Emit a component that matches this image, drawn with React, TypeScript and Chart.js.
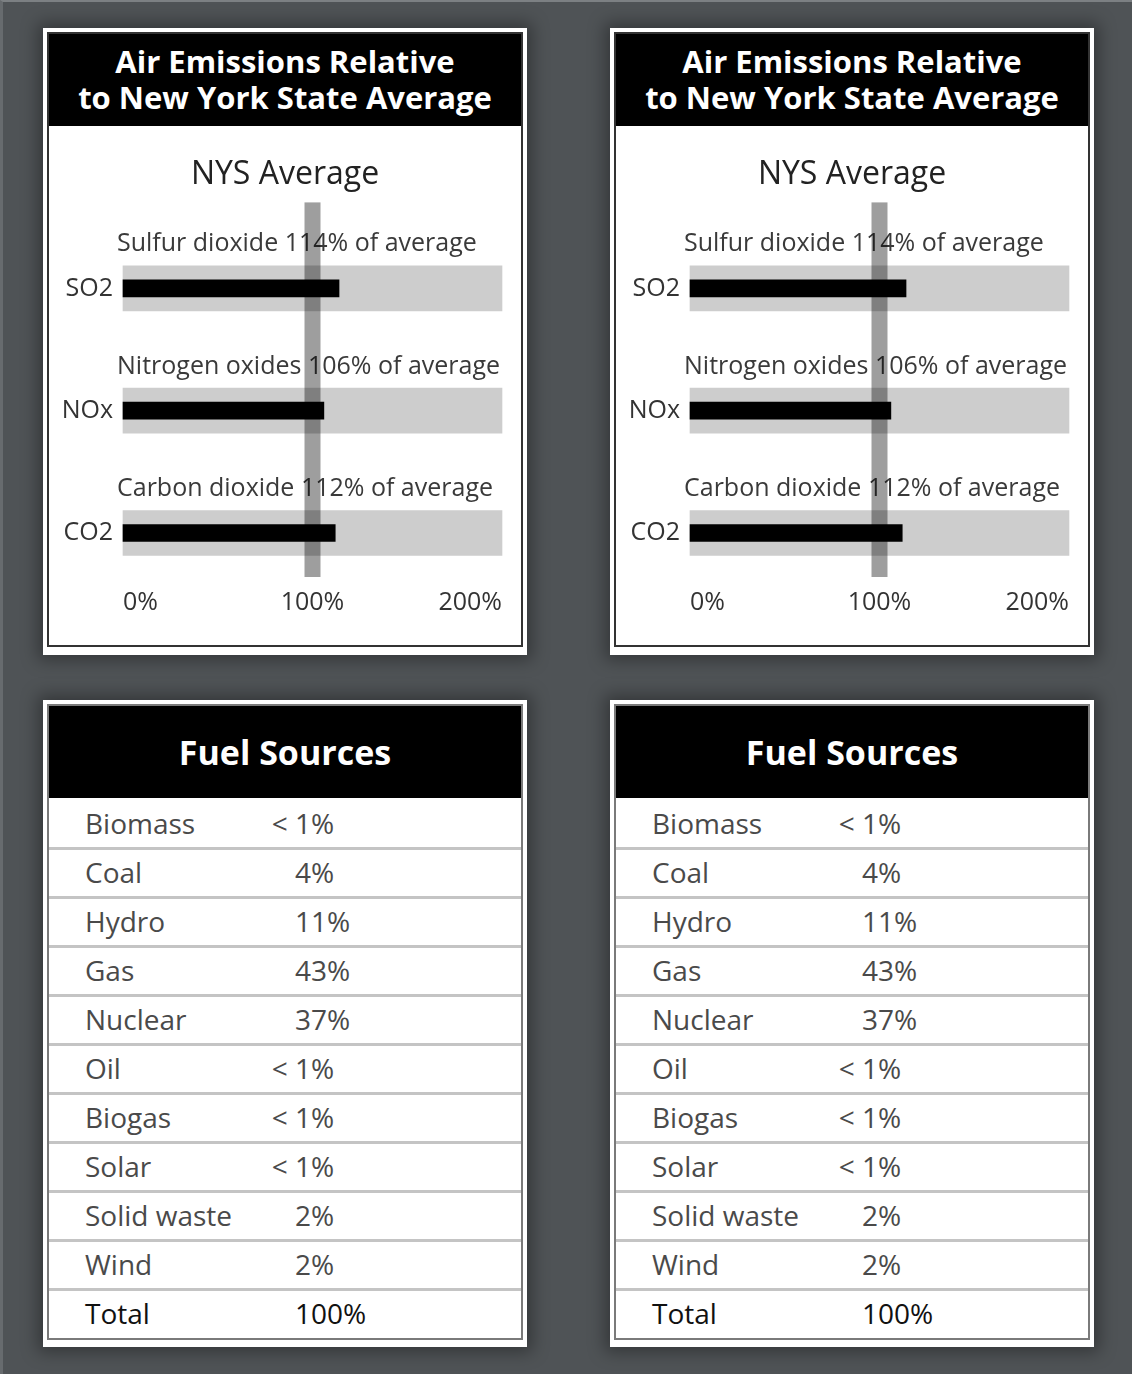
import React, { useEffect, useRef } from "react";
import { Chart, registerables } from "chart.js";

Chart.register(...registerables);

// ---------- data ----------
const pollutantCodes = ["SO2", "NOx", "CO2"];
const pollutantNames = ["Sulfur dioxide", "Nitrogen oxides", "Carbon dioxide"];
const percentOfAverage = [114, 106, 112];
const rangeMax = [200, 200, 200];
const xTickValues = [0, 100, 200];
const nysAverage = 100;

const fuelNames = [
  "Biomass",
  "Coal",
  "Hydro",
  "Gas",
  "Nuclear",
  "Oil",
  "Biogas",
  "Solar",
  "Solid waste",
  "Wind",
  "Total",
];
const fuelShares = [
  "< 1%",
  "4%",
  "11%",
  "43%",
  "37%",
  "< 1%",
  "< 1%",
  "< 1%",
  "2%",
  "2%",
  "100%",
];

const headerTitle = ["Air Emissions Relative", "to New York State Average"];
const chartTitle = "NYS Average";
const tableTitle = "Fuel Sources";

const FONT = '"Open Sans", "Noto Sans", sans-serif';

// ---------- chart ----------
const overlayPlugin = {
  id: "overlay",
  beforeDatasetsDraw(chart: any) {
    const { ctx, chartArea, scales } = chart;
    const y = scales.y;
    ctx.save();
    ctx.font = `25px ${FONT}`;
    ctx.fillStyle = "#3a3a3a";
    ctx.textAlign = "left";
    ctx.textBaseline = "alphabetic";
    pollutantNames.forEach((name, i) => {
      const py = y.getPixelForValue(i);
      ctx.fillText(`${name} ${percentOfAverage[i]}% of average`, chartArea.left - 6, py - 37);
    });
    ctx.restore();
  },
  afterDatasetsDraw(chart: any) {
    const { ctx, chartArea, scales } = chart;
    const px = scales.x.getPixelForValue(nysAverage);
    ctx.save();
    ctx.fillStyle = "rgba(0,0,0,0.38)";
    const top = chartArea.top - 86;
    const bottom = chartArea.bottom + 44;
    ctx.fillRect(px - 8, top, 16, bottom - top);
    ctx.restore();
  },
};

function EmissionsChart() {
  const ref = useRef<HTMLCanvasElement>(null);
  useEffect(() => {
    const chart = new Chart(ref.current as HTMLCanvasElement, {
      type: "bar",
      data: {
        labels: pollutantCodes,
        datasets: [
          {
            data: percentOfAverage,
            backgroundColor: "#000000",
            barThickness: 17,
            grouped: false,
            order: 0,
            clip: false as any,
            borderWidth: 0,
          } as any,
          {
            data: rangeMax,
            backgroundColor: "#cdcdcd",
            barThickness: 45,
            grouped: false,
            order: 1,
            clip: false as any,
            borderWidth: 0,
          } as any,
        ],
      },
      options: {
        indexAxis: "y",
        animation: false,
        responsive: true,
        maintainAspectRatio: false,
        layout: { padding: 0 },
        plugins: {
          legend: { display: false },
          tooltip: { enabled: false },
          title: {
            display: true,
            text: chartTitle,
            color: "#222222",
            font: { family: FONT, size: 32, weight: "normal" as any },
            padding: { top: 30, bottom: 94 },
          },
        },
        scales: {
          x: {
            type: "linear",
            min: 0,
            max: 200,
            afterBuildTicks: (scale: any) => {
              scale.ticks = xTickValues.map((v) => ({ value: v }));
            },
            afterFit: (scale: any) => {
              scale.height = 112;
              scale.paddingLeft = 0;
              scale.paddingRight = 19;
            },
            grid: { display: false, drawTicks: false },
            border: { display: false },
            ticks: {
              align: "inner" as any,
              padding: 55,
              color: "#333333",
              font: { family: FONT, size: 25 },
              callback: (v: any) => `${v}%`,
            },
          },
          y: {
            type: "category",
            offset: false,
            afterFit: (scale: any) => {
              scale.width = 74;
            },
            grid: { display: false, drawTicks: false },
            border: { display: false },
            ticks: {
              padding: 10,
              color: "#333333",
              font: { family: FONT, size: 25 },
            },
          },
        },
      },
      plugins: [overlayPlugin],
    });
    return () => chart.destroy();
  }, []);
  return <canvas ref={ref} />;
}

// ---------- panels ----------
const frameStyle = (left: number, top: number, height: number): React.CSSProperties => ({
  position: "absolute",
  left,
  top,
  width: 484,
  height,
  background: "#ffffff",
  padding: "4px 4px 8px 4px",
  boxSizing: "border-box",
  boxShadow: "0 0 16px 5px rgba(0,0,0,0.35)",
});

function EmissionsPanel({ left, top }: { left: number; top: number }) {
  return (
    <div style={frameStyle(left, top, 627)}>
      <div
        style={{
          border: "2px solid #333",
          height: "100%",
          boxSizing: "border-box",
          display: "flex",
          flexDirection: "column",
        }}
      >
        <div
          style={{
            background: "#000",
            height: 92,
            color: "#fff",
            fontFamily: FONT,
            fontWeight: 700,
            fontSize: 31,
            lineHeight: "36px",
            textAlign: "center",
            display: "flex",
            flexDirection: "column",
            justifyContent: "center",
            paddingBottom: 3,
            boxSizing: "border-box",
          }}
        >
          {headerTitle.map((t) => (
            <div key={t}>{t}</div>
          ))}
        </div>
        <div style={{ position: "relative", flex: 1 }}>
          <EmissionsChart />
        </div>
      </div>
    </div>
  );
}

function ShareText({ text }: { text: string }) {
  if (text.startsWith("< ")) {
    return (
      <span style={{ position: "relative" }}>
        <span style={{ position: "absolute", right: "100%", whiteSpace: "pre" }}>{"< "}</span>
        {text.slice(2)}
      </span>
    );
  }
  return <span>{text}</span>;
}

function FuelPanel({ left, top }: { left: number; top: number }) {
  return (
    <div style={{ ...frameStyle(left, top, 647), padding: "4px 4px 7px 4px" }}>
      <div
        style={{
          border: "2px solid #7a7a7a",
          boxSizing: "border-box",
        }}
      >
        <div
          style={{
            background: "#000",
            height: 92,
            color: "#fff",
            fontFamily: FONT,
            fontWeight: 700,
            fontSize: 34,
            lineHeight: "92px",
            textAlign: "center",
          }}
        >
          {tableTitle}
        </div>
        {fuelNames.map((name, i) => {
          const first = i === 0;
          const last = i === fuelNames.length - 1;
          return (
            <div
              key={name}
              style={{
                position: "relative",
                height: first ? 52 : last ? 47 : 49,
                boxSizing: "border-box",
                borderBottom: last ? "none" : "3px solid #c4c4c4",
                paddingTop: first ? 4 : 1,
                lineHeight: "42px",
                fontFamily: FONT,
                fontSize: 28,
                color: last ? "#111" : "#4a4a4a",
              }}
            >
              <span style={{ position: "absolute", left: 36 }}>{name}</span>
              <span style={{ position: "absolute", left: 246 }}>
                <ShareText text={fuelShares[i]} />
              </span>
            </div>
          );
        })}
      </div>
    </div>
  );
}

export default function App() {
  return (
    <div
      style={{
        position: "absolute",
        left: 0,
        top: 0,
        width: 1132,
        height: 1374,
        background: "#4f5356",
        overflow: "hidden",
        borderTop: "2px solid #7c8083",
        borderLeft: "3px solid #676b6e",
        boxSizing: "border-box",
      }}
    >
      <EmissionsPanel left={40} top={26} />
      <EmissionsPanel left={607} top={26} />
      <FuelPanel left={40} top={698} />
      <FuelPanel left={607} top={698} />
    </div>
  );
}
